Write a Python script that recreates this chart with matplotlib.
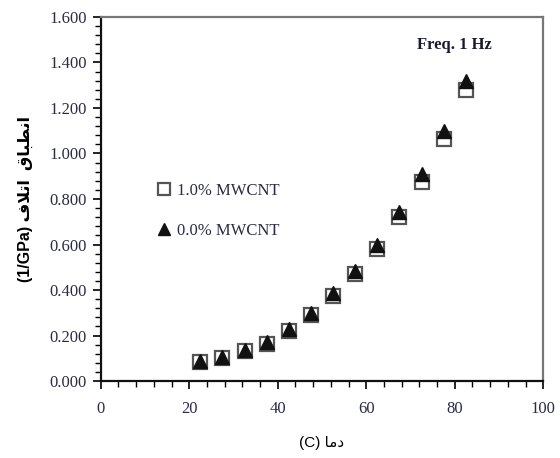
import matplotlib.pyplot as plt
from matplotlib.ticker import MultipleLocator, FormatStrFormatter

# temperature (C) and loss compliance (1/GPa)
temp = [22.5, 27.5, 32.5, 37.5, 42.5, 47.5, 52.5, 57.5, 62.5, 67.5, 72.5, 77.5, 82.5]
mwcnt_10 = [0.085, 0.100, 0.130, 0.165, 0.220, 0.290, 0.375, 0.470, 0.580, 0.720, 0.875, 1.065, 1.280]
mwcnt_00 = [0.090, 0.105, 0.135, 0.170, 0.230, 0.300, 0.385, 0.485, 0.600, 0.745, 0.910, 1.100, 1.320]

labels = ["1.0% MWCNT", "0.0% MWCNT"]

# Persian words written in presentation forms, visual order (no shaping in matplotlib)
intibaq = "\uFED5\uFE8E\uFE92\uFEC4\uFEE7\uFE8D"
etlaf = "\uFED1\uFEFC\uFE97\uFE8D"
dama = "\uFE8E\uFEE3\uFEA9"

fig = plt.figure(figsize=(5.6, 4.58), dpi=100)
ax = fig.add_axes([0.180, 0.168, 0.790, 0.795])

ax.plot(temp, mwcnt_10, linestyle="none", marker="s", markersize=9.5,
        markerfacecolor="white", markeredgecolor="#555555", markeredgewidth=1.6,
        label=labels[0])
ax.plot(temp, mwcnt_00, linestyle="none", marker="^", markersize=9.5,
        markerfacecolor="#111111", markeredgecolor="#111111",
        label=labels[1])

ax.set_xlim(0, 100)
ax.set_ylim(0, 1.6)
ax.xaxis.set_major_locator(MultipleLocator(20))
ax.xaxis.set_minor_locator(MultipleLocator(4))
ax.yaxis.set_major_locator(MultipleLocator(0.2))
ax.yaxis.set_minor_locator(MultipleLocator(0.04))
ax.yaxis.set_major_formatter(FormatStrFormatter("%.3f"))

tick_color = "#2b2b45"
ax.tick_params(which="major", direction="out", length=6, width=1.2,
               labelsize=12, labelcolor=tick_color, pad=4)
ax.tick_params(which="minor", direction="out", length=4, width=1.0)
for lab in ax.get_xticklabels() + ax.get_yticklabels():
    lab.set_family("Liberation Serif")
ax.tick_params(axis="x", pad=8)

for side in ["left", "bottom"]:
    ax.spines[side].set_linewidth(1.6)
    ax.spines[side].set_color("#111111")
for side in ["top", "right"]:
    ax.spines[side].set_linewidth(1.6)
    ax.spines[side].set_color("#777777")

ax.set_ylabel("(1/GPa) " + etlaf + "  " + intibaq, fontsize=11.5, fontweight="bold",
              family=["Liberation Sans", "DejaVu Sans"], labelpad=12)
ax.set_xlabel("(C) " + dama, fontsize=11, family=["Liberation Sans", "DejaVu Sans"],
              labelpad=14)

ax.text(0.80, 0.923, "Freq. 1 Hz", transform=ax.transAxes, ha="center", va="center",
        fontsize=12, fontweight="bold", family="Liberation Serif", color="#1a1a2e")

leg = ax.legend(loc="center left", bbox_to_anchor=(0.09, 0.468), frameon=False,
                prop={"family": "Liberation Serif", "size": 12},
                handletextpad=0.3, labelspacing=1.45, handlelength=1.0,
                markerscale=0.85)
for t in leg.get_texts():
    t.set_color(tick_color)

fig.savefig("out.png", dpi=100)
